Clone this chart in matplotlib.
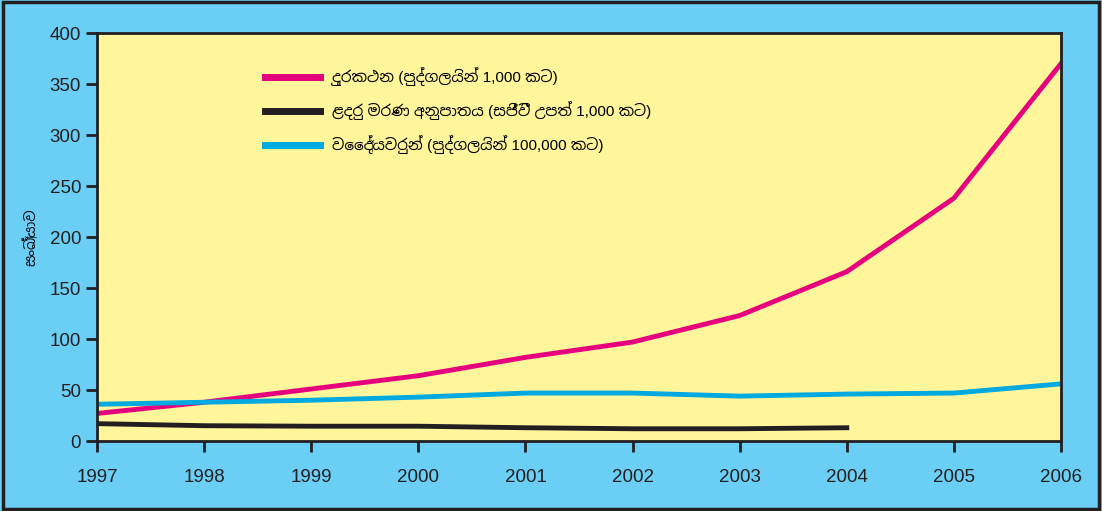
import numpy as np
import matplotlib.pyplot as plt
from matplotlib.patches import Rectangle

years = [1997, 1998, 1999, 2000, 2001, 2002, 2003, 2004, 2005, 2006]
phones = [27, 38, 51, 64, 82, 97, 123, 166, 238, 370]
doctors = [36, 38, 40, 43, 47, 47, 44, 46, 47, 56]
infant_years = [1997, 1998, 1999, 2000, 2001, 2002, 2003, 2004]
infant_mortality = [17, 15, 14.5, 14.5, 13, 12, 12, 13]

labels = [
    'දුරකථන (පුද්ගලයින් 1,000 කට)',
    'ළදරු මරණ අනුපාතය (සජීවී උපත් 1,000 කට)',
    'වෛද්‍යවරුන් (පුද්ගලයින් 100,000 කට)',
]
ylabel = 'සංඛ්‍යාව'

plt.rcParams['font.family'] = ['Liberation Sans', 'Noto Sans Sinhala', 'DejaVu Sans']

fig = plt.figure(figsize=(11.02, 5.11), dpi=100, facecolor='#6bcff5')
ax = fig.add_axes([97 / 1102, 1 - 441 / 511, (1061 - 97) / 1102, (441 - 33) / 511])
ax.set_facecolor('#fff59b')

ax.plot(years, phones, color='#e6007e', lw=3.5, label=labels[0])
ax.plot(infant_years, infant_mortality, color='#231f20', lw=3.5, label=labels[1])
ax.plot(years, doctors, color='#00a9e0', lw=3.5, label=labels[2])

ax.set_xlim(1997, 2006)
ax.set_ylim(0, 400)
ax.set_xticks(years)
ax.set_yticks(np.arange(0, 401, 50))
ax.tick_params(axis='both', labelsize=13.5, colors='#231f20', width=2, length=8, direction='out')
ax.tick_params(axis='x', pad=12)
for s in ax.spines.values():
    s.set_linewidth(2)
    s.set_color('#231f20')

ax.set_ylabel(ylabel, fontsize=10, labelpad=8)

leg = ax.legend(loc='upper left', bbox_to_anchor=(0.16, 0.95), frameon=False,
                fontsize=11, handlelength=3.6, labelspacing=1.0)
for line in leg.get_lines():
    line.set_linewidth(5)

fig.patches.append(Rectangle((0.003, 0.004), 0.994, 0.992, transform=fig.transFigure,
                             fill=False, edgecolor='#231f20', lw=2.5))

fig.savefig('out.png', dpi=100, facecolor=fig.get_facecolor())
